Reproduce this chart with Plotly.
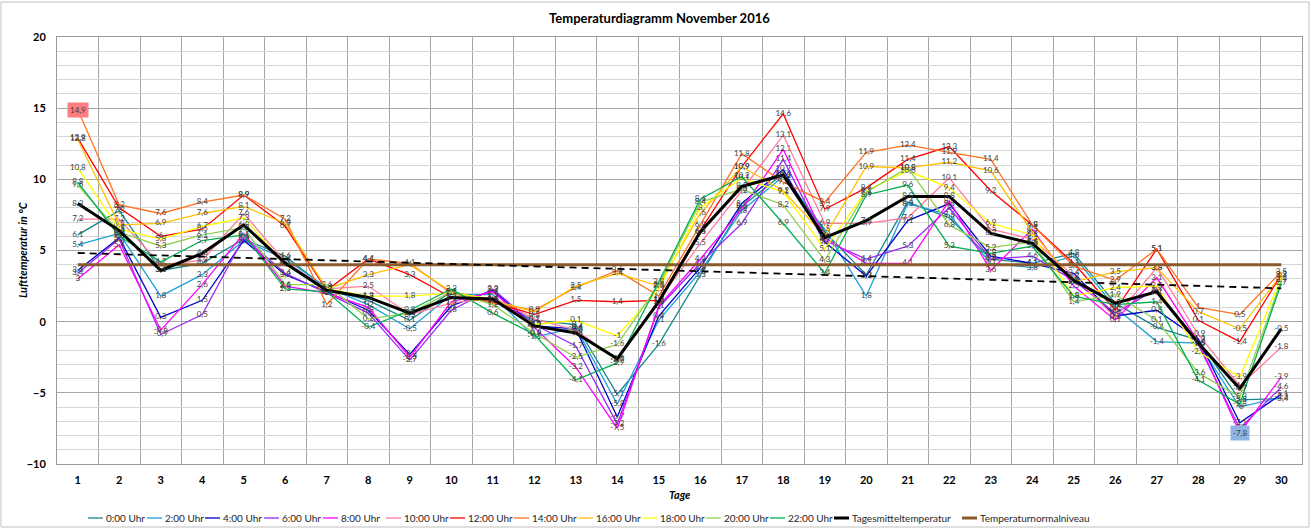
import numpy as np
import plotly.graph_objects as go

# ---------------- data ----------------
days = list(range(1, 31))
day_labels = [str(d) for d in days]

series_names = ["0:00 Uhr", "2:00 Uhr", "4:00 Uhr", "6:00 Uhr", "8:00 Uhr", "10:00 Uhr",
                "12:00 Uhr", "14:00 Uhr", "16:00 Uhr", "18:00 Uhr", "20:00 Uhr", "22:00 Uhr"]

t00 = [6.1, 7.8, 3.6, 4.1, 5.8, 4.6, 2.3, 1.5, 0.1, 2.1, 1.5, 0.1, -0.2, -5.1, -1.6,
       3.3, 8.1, 10.4, 6.3, 3.3, 8.4, 7.3, 4.4, 4.1, 4.8, 1.3, -0.4, -1.3, -5.5, -5.4]
t02 = [5.4, 6.2, 1.8, 3.3, 5.7, 4.4, 2.4, 1.2, -0.5, 1.9, 1.9, -1.1, -0.4, -5.8, 0.1,
       3.5, 7.8, 10.2, 6.5, 1.8, 8.3, 7.5, 4.1, 3.8, 4.6, 1.0, -1.4, -1.5, -6.0, -5.3]
t04 = [3.6, 5.9, 0.3, 1.5, 5.7, 3.3, 2.1, 0.8, -2.3, 1.1, 2.2, -0.3, -0.5, -6.7, 0.4,
       3.8, 8.3, 10.7, 5.6, 3.2, 7.1, 8.3, 4.6, 4.1, 3.4, 0.4, 0.8, -1.2, -7.1, -5.1]
t06 = [3.4, 5.8, -0.9, 0.5, 5.9, 3.4, 2.0, 0.6, -2.7, 0.8, 2.3, -0.2, -1.7, -7.2, 1.0,
       4.1, 6.9, 11.4, 5.7, 4.4, 5.3, 8.0, 4.4, 4.6, 2.9, 0.6, 2.3, -1.6, -7.5, -4.6]
t08 = [3.0, 5.4, -0.6, 2.6, 6.2, 2.5, 2.0, 1.0, -2.5, 1.4, 2.1, -0.4, -3.2, -7.5, 1.1,
       4.4, 7.9, 12.1, 5.9, 4.1, 4.1, 8.5, 3.6, 6.5, 2.5, 0.1, 3.1, -1.4, -7.8, -3.9]
t10 = [7.2, 7.2, 4.0, 4.3, 7.6, 4.2, 2.3, 2.5, 0.5, 1.3, 1.7, 0.2, -0.6, -2.7, 1.5,
       5.5, 9.2, 13.1, 6.9, 6.9, 7.3, 10.1, 6.5, 5.8, 3.2, 0.3, 3.8, -0.9, -4.5, -1.8]
t12 = [12.9, 8.0, 6.0, 6.5, 8.9, 6.7, 2.2, 4.4, 3.3, 1.7, 1.4, 0.5, 1.5, 1.4, 1.5,
       6.4, 10.9, 14.6, 7.9, 9.4, 11.4, 12.3, 9.2, 6.8, 4.1, 0.8, 5.1, 0.1, -1.4, 3.3]
t14 = [14.9, 8.2, 7.6, 8.4, 8.9, 7.2, 1.2, 4.4, 4.1, 2.0, 1.3, 0.8, 2.4, 3.6, 1.8,
       6.8, 11.8, 9.8, 8.4, 11.9, 12.4, 11.9, 11.4, 6.8, 3.9, 2.9, 5.1, 1.0, 0.5, 3.5]
t16 = [12.8, 6.8, 6.9, 7.6, 8.1, 6.9, 2.3, 3.3, 4.0, 2.1, 1.5, 0.7, 2.5, 3.4, 2.5,
       7.6, 10.9, 9.2, 6.0, 10.9, 10.8, 11.2, 10.6, 6.3, 2.8, 3.5, 3.8, 0.7, -0.5, 3.3]
t18 = [10.8, 6.5, 5.8, 6.7, 7.3, 4.0, 2.3, 1.8, 1.8, 2.0, 1.6, -0.2, 0.1, -1.0, 2.3,
       8.0, 10.1, 9.1, 5.1, 9.2, 10.6, 9.4, 6.9, 6.1, 1.8, 2.4, 2.5, -2.1, -3.9, 3.1]
t20 = [9.6, 6.3, 5.3, 6.1, 6.6, 2.6, 2.6, 0.2, 0.6, 2.1, 1.2, -0.8, -2.5, -1.6, 2.6,
       8.4, 9.3, 8.2, 4.3, 9.1, 10.8, 6.8, 5.2, 5.6, 1.4, 1.9, 0.1, -3.6, -5.3, 2.9]
t22 = [9.8, 6.0, 4.2, 5.7, 6.1, 2.3, 2.1, -0.4, 0.8, 2.3, 0.6, -0.9, -4.1, -2.9, 2.8,
       8.6, 10.2, 6.9, 3.4, 8.9, 9.6, 5.3, 4.8, 5.3, 1.8, 1.2, 1.4, -4.1, -5.8, 2.7]

mean_temp = [8.3, 6.4, 3.6, 4.8, 6.8, 4.1, 2.2, 1.7, 0.6, 1.7, 1.6, -0.3, -0.8, -2.6, 1.4,
             6.3, 9.5, 10.3, 5.9, 7.1, 8.8, 8.8, 6.2, 5.5, 2.9, 1.3, 2.1, -1.5, -4.7, -0.5]
normal_level = 4.0

series_values = [t00, t02, t04, t06, t08, t10, t12, t14, t16, t18, t20, t22]
series_colors = ["#17868C", "#1E9FD8", "#0000CC", "#9A2BF0", "#FF00FF", "#FF7C9E",
                 "#FF0000", "#FF7020", "#FFC000", "#FFFF00", "#92D050", "#00B050"]

# ---------------- geometry (pixels) ----------------
W, H = 1311, 530
PL, PR, PT, PB = 57, 1302, 37, 464
FONT = "Lato"


def px_x(px):
    return (px - PL) / (PR - PL)


def px_y(py):
    return (PB - py) / (PB - PT)


def fmt(v):
    return format(v, "g").replace(".", ",")


fig = go.Figure()

for name, vals, col in zip(series_names, series_values, series_colors):
    fig.add_trace(go.Scatter(
        x=days, y=vals, name=name, mode="lines+text",
        line=dict(color=col, width=1.3),
        text=[fmt(v) for v in vals], textposition="middle center",
        textfont=dict(size=8, color="#404040", family=FONT),
        showlegend=False, cliponaxis=False))

# normal level
normal_vals = [normal_level for _ in days]
fig.add_trace(go.Scatter(x=days, y=normal_vals, mode="lines", name="Temperaturnormalniveau",
                         line=dict(color="#8B5A2B", width=3), showlegend=False))

# daily mean
fig.add_trace(go.Scatter(
    x=days, y=mean_temp, name="Tagesmitteltemperatur", mode="lines+text",
    line=dict(color="#000000", width=3),
    text=[fmt(v) for v in mean_temp], textposition="middle center",
    textfont=dict(size=8, color="#404040", family=FONT),
    showlegend=False, cliponaxis=False))

# linear trend of daily mean
coef = np.polyfit(days, mean_temp, 1)
trend = np.polyval(coef, days)
fig.add_trace(go.Scatter(x=days, y=trend, mode="lines", line=dict(color="#000000", width=1.8, dash="7px,5px"),
                         showlegend=False, hoverinfo="skip"))

# highlight max / min labels
all_vals = np.array(series_values)
imax = np.unravel_index(np.argmax(all_vals), all_vals.shape)
imin = np.unravel_index(np.argmin(all_vals), all_vals.shape)
for (si, di), bg in [(imax, "#FF7C80"), (imin, "#8DB4E2")]:
    v = all_vals[si, di]
    fig.add_annotation(x=days[di], y=v, text=fmt(v), showarrow=False,
                       font=dict(size=8, color="#404040", family=FONT),
                       bgcolor=bg, borderpad=2)

# ---------------- manual legend ----------------
legend_items = series_names + ["Tagesmitteltemperatur", "Temperaturnormalniveau"]
legend_colors = series_colors + ["#000000", "#8B5A2B"]
legend_widths = [1.3] * 12 + [3, 3]
legend_line_x = [88, 147, 205, 264, 323, 386, 450, 514, 578, 642, 706, 770, 834, 962]
leg_y = 518
for name, col, lw, lx in zip(legend_items, legend_colors, legend_widths, legend_line_x):
    fig.add_shape(type="line", xref="paper", yref="paper",
                  x0=px_x(lx), x1=px_x(lx + 15), y0=px_y(leg_y), y1=px_y(leg_y),
                  line=dict(color=col, width=lw))
    fig.add_annotation(xref="paper", yref="paper", x=px_x(lx + 16), y=px_y(leg_y),
                       xanchor="left", yanchor="middle", text=name, showarrow=False,
                       font=dict(size=10, color="#262626", family=FONT))

# axis titles
fig.add_annotation(xref="paper", yref="paper", x=px_x(22), y=px_y(250), text="<b><i>Lufttemperatur in °C</i></b>",
                   textangle=-90, showarrow=False, xanchor="center", yanchor="middle",
                   font=dict(size=11, color="#000000", family=FONT))
fig.add_annotation(xref="paper", yref="paper", x=px_x(680), y=px_y(494), text="<b><i>Tage</i></b>",
                   showarrow=False, xanchor="center", yanchor="middle",
                   font=dict(size=11, color="#000000", family=FONT))

# outer chart border
fig.add_shape(type="rect", xref="paper", yref="paper",
              x0=px_x(1), x1=px_x(1309), y0=px_y(527), y1=px_y(2),
              line=dict(color="#BFBFBF", width=1), layer="below")

fig.update_layout(
    width=W, height=H,
    margin=dict(l=PL, r=W - PR, t=PT, b=H - PB),
    paper_bgcolor="white", plot_bgcolor="white",
    title=dict(text="<b>Temperaturdiagramm November 2016</b>", x=0.503, xref="container",
               y=1 - 18 / H, yref="container", xanchor="center", yanchor="middle",
               font=dict(size=13, color="#000000", family=FONT)),
    xaxis=dict(range=[0.5, 30.5], tickmode="array", tickvals=days, ticktext=day_labels,
               tickfont=dict(size=11, color="#000000", family=FONT, weight="bold"),
               showgrid=False, zeroline=False, ticks="", ticklabelstandoff=6,
               showline=True, linecolor="#9A9A9A", linewidth=1, mirror=True,
               minor=dict(tick0=0.5, dtick=1, showgrid=True, gridcolor="#A6A6A6", gridwidth=1.3, ticks="")),
    yaxis=dict(range=[-10, 20], tickmode="linear", tick0=-10, dtick=5,
               tickfont=dict(size=11, color="#000000", family=FONT, weight="bold"),
               showgrid=True, gridcolor="#A6A6A6", gridwidth=1.3, zeroline=False, ticks="",
               ticklabelstandoff=8,
               showline=True, linecolor="#9A9A9A", linewidth=1, mirror=True,
               minor=dict(dtick=1, showgrid=True, gridcolor="#D6D6D6", gridwidth=1, ticks="")),
    showlegend=False,
)

fig.write_html("out.html", config={"displayModeBar": False},
               post_script="document.body.style.margin='0px';")
